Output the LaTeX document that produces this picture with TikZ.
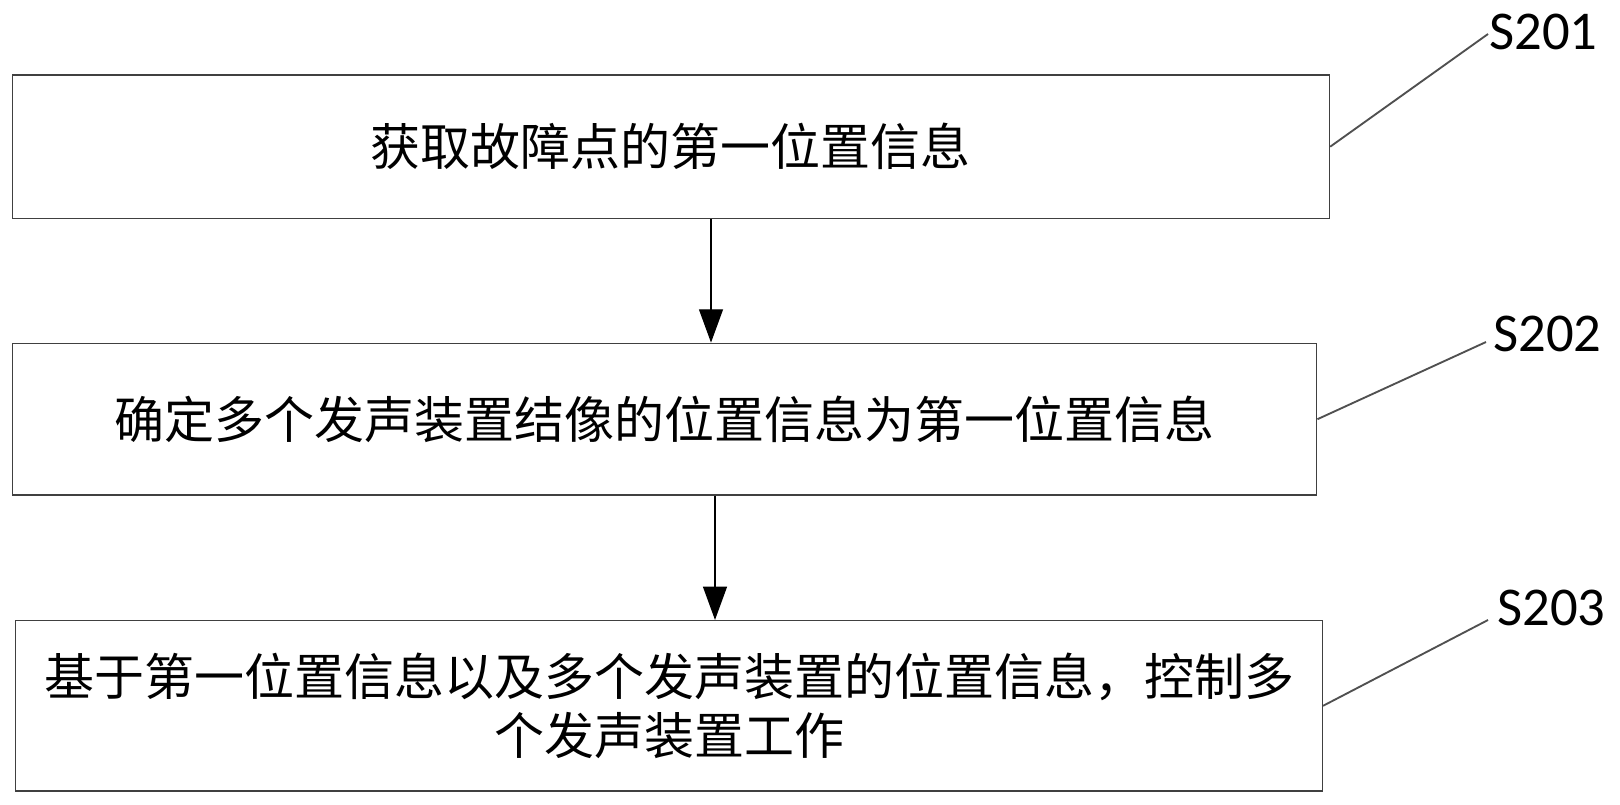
\documentclass[tikz,border=0pt]{standalone}
\usepackage{fontspec}
\usepackage{tikz}
\usetikzlibrary{positioning,arrows.meta}
\setmainfont{Carlito}
\newfontfamily\cjk{Noto Sans CJK SC}
\definecolor{edge}{RGB}{64,64,64}
\definecolor{lead}{RGB}{80,80,80}
\tikzset{
  stepbox/.style={draw=edge,line width=1.1pt,inner sep=0pt,align=center,
    font=\cjk\fontsize{37.5pt}{44pt}\selectfont},
  steplbl/.style={font=\fontsize{41pt}{48pt}\selectfont,inner sep=0pt,anchor=south west},
  flow/.style={black,line width=1pt,-{Triangle[length=25pt,width=18pt]}},
  leader/.style={lead,line width=1.4pt}
}

\begin{document}
\begin{tikzpicture}[x=0.75pt,y=-0.75pt]
\useasboundingbox (0,0) rectangle (1620,804);
% steps
\node[stepbox,minimum width=987.8pt,minimum height=107.5pt] (b1) at (670.9,146.7) {获取故障点的第一位置信息};
\node[stepbox,minimum width=978.3pt,minimum height=113.8pt] (b2) at (664.5,419.2) {确定多个发声装置结像的位置信息为第一位置信息};
\node[stepbox,minimum width=980pt,minimum height=127.7pt] (b3) at (669,705.8) {基于第一位置信息以及多个发声装置的位置信息，控制多\\个发声装置工作};
% step numbers
\node[steplbl] (s201) at (1489,50) {S201};
\node[steplbl] (s202) at (1493,352) {S202};
\node[steplbl] (s203) at (1497,626) {S203};
\coordinate (e201) at (1488,34);
\coordinate (e202) at (1486,342);
\coordinate (e203) at (1488,620);
\draw[leader] (b1.east) -- (e201);
\draw[leader] (b2.east) -- (e202);
\draw[leader] (b3.east) -- (e203);
% arrows
\coordinate (ax1) at (711,0);
\coordinate (ax2) at (715,0);
\draw[flow] (b1.south -| ax1) -- (b2.north -| ax1);
\draw[flow] (b2.south -| ax2) -- (b3.north -| ax2);
\end{tikzpicture}
\end{document}
